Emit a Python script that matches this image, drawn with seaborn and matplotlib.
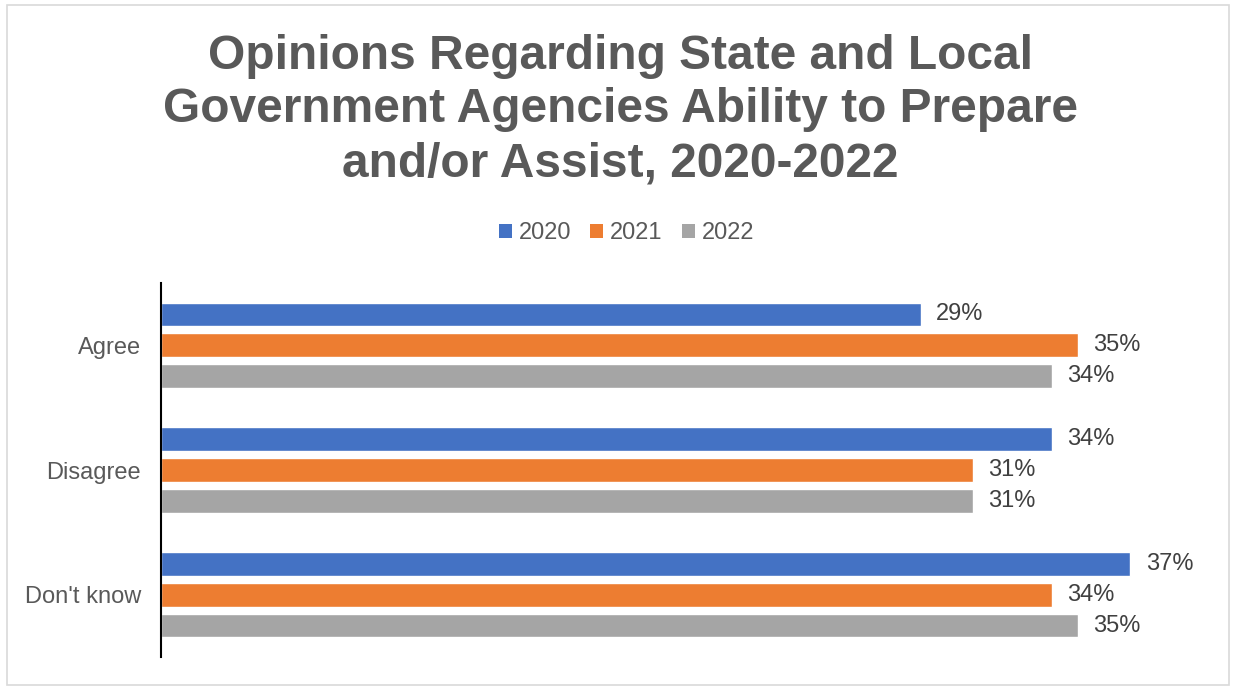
import matplotlib
matplotlib.use("Agg")
import matplotlib.pyplot as plt
from matplotlib.patches import Rectangle, Patch
import pandas as pd
import seaborn as sns

categories = ["Agree", "Disagree", "Don't know"]
years = ["2020", "2021", "2022"]
values_2020 = [29, 34, 37]
values_2021 = [35, 31, 34]
values_2022 = [34, 31, 35]
colors = ["#4472C4", "#ED7D31", "#A5A5A5"]

df = pd.DataFrame({
    "category": categories * 3,
    "year": [y for y in years for _ in categories],
    "value": values_2020 + values_2021 + values_2022,
})

sns.set_theme(style="white")
plt.rcParams["font.family"] = ["Liberation Sans", "DejaVu Sans"]

fig = plt.figure(figsize=(12.33, 6.87), dpi=100)
ax = fig.add_axes([161 / 1233, 30 / 687, 1048 / 1233, 374 / 687])

sns.barplot(data=df, y="category", x="value", hue="year", orient="h",
            palette=colors, width=0.744, gap=0.23, order=categories,
            hue_order=years, ax=ax, legend=False, saturation=1)

ax.set_xlim(0, 40)
ax.set_ylim(2.5, -0.5)
ax.set_xlabel("")
ax.set_ylabel("")
ax.set_xticks([])
for side in ["top", "right", "bottom"]:
    ax.spines[side].set_visible(False)
ax.spines["left"].set_color("black")
ax.spines["left"].set_linewidth(1.5)
ax.tick_params(axis="y", length=0, pad=14.5, labelsize=17, labelcolor="#595959")

for container in ax.containers:
    ax.bar_label(container, labels=[f"{v:.0f}%" for v in container.datavalues],
                 padding=11, fontsize=17, color="#404040")

fig.text(0.503, 1 - 110 / 687,
         "Opinions Regarding State and Local\nGovernment Agencies Ability to Prepare\nand/or Assist, 2020-2022",
         ha="center", va="center", fontsize=34.5, fontweight="bold",
         color="#595959", linespacing=1.25)

handles = [Patch(facecolor=c, edgecolor="none") for c in colors]
fig.legend(handles, years, loc="center", bbox_to_anchor=(0.508, 1 - 233 / 687), ncol=3,
           frameon=False, fontsize=17, labelcolor="#595959",
           handlelength=0.55, handleheight=0.55, handletextpad=0.3,
           columnspacing=0.8)

fig.patches.append(Rectangle((7 / 1233, 2 / 687), 1222 / 1233, 680 / 687,
                             transform=fig.transFigure, fill=False,
                             edgecolor="#D9D9D9", linewidth=1.2))

fig.savefig("out.png", dpi=100, facecolor="white")
